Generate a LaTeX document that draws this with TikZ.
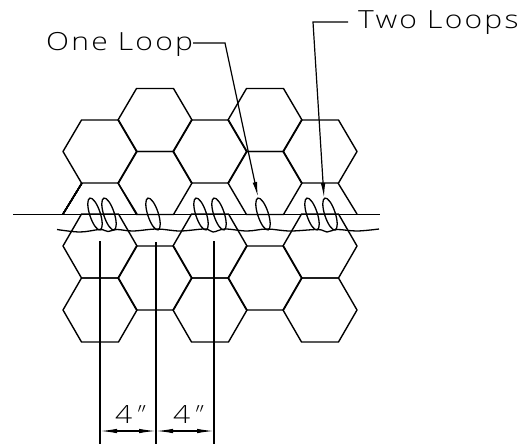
\documentclass[tikz,border=0pt]{standalone}
\usepackage{fontspec}
\usetikzlibrary{arrows.meta}
\newfontfamily\cadfont[FakeStretch=1.2,LetterSpace=9]{Open Sans Light}
\newfontfamily\cadslant[FakeSlant=0.35]{Open Sans Light}
\tikzset{
  every node/.style={font=\cadfont\fontsize{25}{25}\selectfont,inner sep=0pt},
  mesh/.style={black,line width=1.4pt,line join=round},
  wire/.style={black,line width=1.3pt},
  leader/.style={black,line width=1.2pt,-{Latex[length=15pt,width=4.5pt]}},
  dimline/.style={black,line width=1.2pt,{Latex[length=17pt,width=4.5pt]}-{Latex[length=17pt,width=4.5pt]}}
}
\newcommand{\hexcell}[3]{%
  \draw [mesh] (#1-37,#2) -- (#1-18.5,#2-#3) -- (#1+18.5,#2-#3) -- (#1+37,#2)
    -- (#1+18.5,#2+#3) -- (#1-18.5,#2+#3) -- cycle;}
\begin{document}
\begin{tikzpicture}[x=1pt,y=-1pt]
  \useasboundingbox (0,0) rectangle (528,445);
  % mesh above the wire
  \foreach \cx/\cy in {155/120,265/120,100/151.5,210/151.5,320/151.5,155/183,265/183}
    \hexcell{\cx}{\cy}{31.5}
  \draw [mesh] (82,183) -- (63,214);
  \draw [mesh] (118,183) -- (137,214);
  \draw [mesh] (338,183) -- (357,214);
  % mesh below the wire
  \foreach \cx/\cy in {100/246,210/246,320/246,155/278,265/278,100/310,210/310,320/310}
    \hexcell{\cx}{\cy}{32}
  % wires and loops
  \draw [wire] (13,214.5) -- (380,214.5);
  \draw [wire] plot [smooth,tension=0.6] coordinates {(57,229.5) (80,232) (100,229.5) (108,231.5)
    (117,229.5) (133,231) (157,229) (180,231) (205,229) (213,232) (225,229) (247,231)
    (267,229) (290,231) (318,229.5) (327,232) (337,229.5) (357,231) (379,229)};
  \foreach \cx in {95,109,153,201,219,263,312,330}
    \draw [wire,shift={(\cx,214)},rotate=18] (0,0) ellipse (5.3 and 16.7);
  % leaders
  \node [anchor=base west] (oneloop) at (46,50) {One Loop};
  \node [anchor=base west,inner xsep=10pt] (twoloops) at (348,28) {Two Loops};
  \coordinate (onebend) at (225,43);
  \coordinate (onetip) at (258,197);
  \coordinate (twobend) at (313,22);
  \coordinate (twotip) at (324,198);
  \draw [leader] (oneloop.east |- onebend) -- (onebend) -- (onetip);
  \draw [leader] (twoloops.west |- twobend) -- (twobend) -- (twotip);
  % dimensions
  \coordinate (dimatop) at (100,241);
  \coordinate (dimbtop) at (156,242);
  \coordinate (dimctop) at (214,241);
  \coordinate (dimaend) at (100,444);
  \coordinate (dimbend) at (156,444);
  \coordinate (dimcend) at (214,444);
  \coordinate (dima) at (100,431);
  \coordinate (dimb) at (156,431);
  \coordinate (dimc) at (214,431);
  \draw [wire] (dimatop) -- (dimaend);
  \draw [wire] (dimbtop) -- (dimbend);
  \draw [wire] (dimctop) -- (dimcend);
  \draw [dimline] (dima) -- (dimb);
  \draw [dimline] (dimb) -- (dimc);
  \node [anchor=base] (dimleft) at (128,423) {4{\cadslant\char"2033}};
  \node [anchor=base] (dimright) at (186,423) {4{\cadslant\char"2033}};
\end{tikzpicture}
\end{document}
